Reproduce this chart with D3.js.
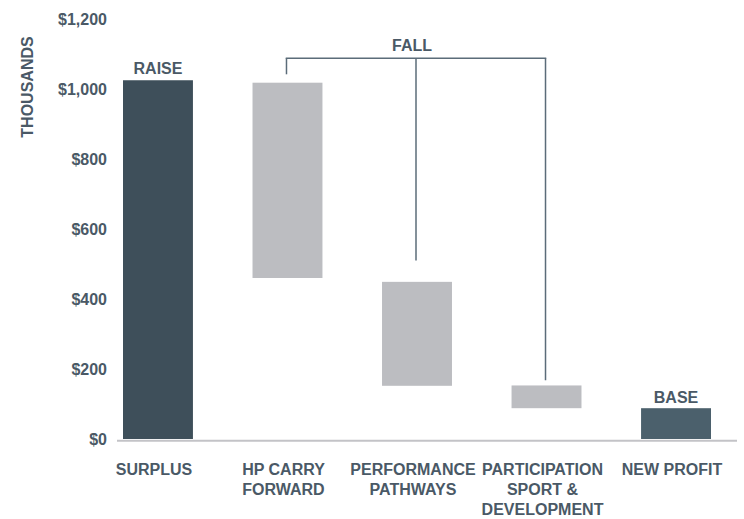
<!DOCTYPE html>
<html><head><meta charset="utf-8">
<script src="https://cdn.jsdelivr.net/npm/d3@7"></script>
<style>body{margin:0;background:#fff}svg{display:block}text{font-family:"Liberation Sans",Arial,Helvetica,sans-serif;font-weight:bold}</style>
</head><body><svg id="c" width="744" height="519"></svg>
<script>
// Data (thousands)
const categories = [["SURPLUS"],["HP CARRY","FORWARD"],["PERFORMANCE","PATHWAYS"],["PARTICIPATION","SPORT &","DEVELOPMENT"],["NEW PROFIT"]];
const barStart = [0, 460, 152, 88, 0];
const barEnd   = [1025, 1018, 449, 153, 88];
const barKind  = ["total","fall","fall","fall","base"];
const yTicks   = [0,200,400,600,800,1000,1200];
const bracketLegValues = [1042, 510, 168];
const bracketTop = 1088;
const keys = categories.map(c=>c.join(" "));

const svg = d3.select("#c");
const y = d3.scaleLinear().domain([0,1200]).range([439,19]);
const x = d3.scaleBand().domain(keys).range([123,711]).paddingInner(0.46).paddingOuter(0);
const bw = x.bandwidth();
const textCol = "#4a5966";
const colors = {total:"#3e4f5a", fall:"#bcbdc1", base:"#4b606c"};
const fs = "16px";

// y-axis labels
const fmt = d => "$" + d3.format(",")(d);
const yAxis = d3.axisLeft(y).tickValues(yTicks).tickFormat(fmt).tickSize(0).tickPadding(0);
const ga = svg.append("g").attr("transform","translate(107,0)").call(yAxis);
ga.select(".domain").remove();
ga.selectAll("text").attr("fill",textCol).style("font-size",fs).style("font-family","'Liberation Sans',Arial,sans-serif").style("font-weight","bold").attr("dy","0.32em");

svg.append("text").attr("transform","translate(33,87) rotate(-90)").attr("text-anchor","middle")
  .attr("fill",textCol).style("font-size",fs).text("THOUSANDS");

// baseline
svg.append("line").attr("x1",117).attr("x2",737).attr("y1",y(0)+1.7).attr("y2",y(0)+1.7)
  .attr("stroke","#c3c3c7").attr("stroke-width",2);

// bars
svg.selectAll("rect.bar").data(keys).join("rect").attr("class","bar")
  .attr("x",k=>x(k)).attr("width",bw)
  .attr("y",(k,i)=>y(Math.max(barStart[i],barEnd[i])))
  .attr("height",(k,i)=>Math.abs(y(barStart[i])-y(barEnd[i])))
  .attr("fill",(k,i)=>colors[barKind[i]]);

// category labels
keys.forEach((k,i)=>{
  const cx = x(k)+bw/2-4;
  const t = svg.append("text").attr("text-anchor","middle").attr("fill",textCol).style("font-size",fs)
    .attr("x",cx).attr("y",475);
  categories[i].forEach((ln,j)=>t.append("tspan").attr("x",cx).attr("dy",j?20:0).text(ln));
});

// RAISE / BASE labels
svg.append("text").attr("x",x(keys[0])+bw/2).attr("y",y(barEnd[0])-6).attr("text-anchor","middle")
  .attr("fill",textCol).style("font-size",fs).text("RAISE");
svg.append("text").attr("x",x(keys[4])+bw/2).attr("y",y(barEnd[4])-5).attr("text-anchor","middle")
  .attr("fill",textCol).style("font-size",fs).text("BASE");

// FALL bracket
const fallIdx = [1,2,3];
const legX = fallIdx.map(i=>x(keys[i])+bw/2 - 1);
const lc = "#5b6c79";
svg.append("line").attr("x1",legX[0]-0.75).attr("x2",legX[2]+0.75).attr("y1",y(bracketTop)).attr("y2",y(bracketTop))
  .attr("stroke",lc).attr("stroke-width",1.5);
fallIdx.forEach((i,j)=>{
  svg.append("line").attr("x1",legX[j]).attr("x2",legX[j]).attr("y1",y(bracketTop)).attr("y2",y(bracketLegValues[j]))
    .attr("stroke",lc).attr("stroke-width",1.5);
});
svg.append("text").attr("x",legX[1]-4).attr("y",y(bracketTop)-7).attr("text-anchor","middle")
  .attr("fill",textCol).style("font-size",fs).text("FALL");
</script></body></html>
